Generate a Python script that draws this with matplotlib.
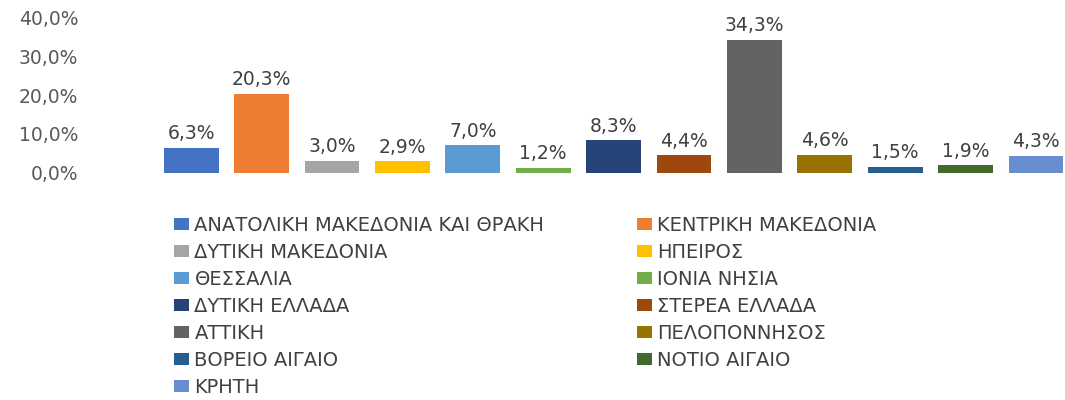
import matplotlib
matplotlib.use("Agg")
import matplotlib.pyplot as plt
from matplotlib.ticker import FuncFormatter

regions = [
    "ΑΝΑΤΟΛΙΚΗ ΜΑΚΕΔΟΝΙΑ ΚΑΙ ΘΡΑΚΗ",
    "ΚΕΝΤΡΙΚΗ ΜΑΚΕΔΟΝΙΑ",
    "ΔΥΤΙΚΗ ΜΑΚΕΔΟΝΙΑ",
    "ΗΠΕΙΡΟΣ",
    "ΘΕΣΣΑΛΙΑ",
    "ΙΟΝΙΑ ΝΗΣΙΑ",
    "ΔΥΤΙΚΗ ΕΛΛΑΔΑ",
    "ΣΤΕΡΕΑ ΕΛΛΑΔΑ",
    "ΑΤΤΙΚΗ",
    "ΠΕΛΟΠΟΝΝΗΣΟΣ",
    "ΒΟΡΕΙΟ ΑΙΓΑΙΟ",
    "ΝΟΤΙΟ ΑΙΓΑΙΟ",
    "ΚΡΗΤΗ",
]
shares = [0.063, 0.203, 0.030, 0.029, 0.070, 0.012, 0.083, 0.044, 0.343, 0.046, 0.015, 0.019, 0.043]
colors = ["#4472C4", "#ED7D31", "#A5A5A5", "#FFC000", "#5B9BD5", "#70AD47",
          "#264478", "#9E480E", "#636363", "#997300", "#255E91", "#43682B", "#698ED0"]
yticks = [0.0, 0.1, 0.2, 0.3, 0.4]

plt.rcParams['font.family'] = ['DejaVu Sans']

W, H = 1065, 400
fig = plt.figure(figsize=(W / 100, H / 100), dpi=100)
ax = fig.add_axes([156 / W, 1 - 172.5 / H, 70.4 * 13 / W, 154.8 / H])

bars = []
for i, (v, c, lab) in enumerate(zip(shares, colors, regions)):
    b = ax.bar(i, v, width=0.78, color=c, label=lab)
    bars.append(b)
    ax.text(i, v + 0.012, f"{v*100:.1f}%".replace(".", ","), ha="center", va="bottom",
            fontsize=13.5, color="#404040")

ax.set_xlim(-0.5, len(shares) - 0.5)
ax.set_ylim(0, 0.4)
ax.set_yticks(yticks)
ax.yaxis.set_major_formatter(FuncFormatter(lambda v, p: f"{v*100:.1f}%".replace(".", ",")))
ax.tick_params(axis="y", length=0, pad=56, labelsize=13.5, labelcolor="#595959")
ax.tick_params(axis="x", length=0, labelbottom=False)
for s in ax.spines.values():
    s.set_visible(False)
ax.patch.set_alpha(0)

col1 = list(range(0, 13, 2))
col2 = list(range(1, 13, 2))
common = dict(frameon=False, fontsize=14, handlelength=0.75, handleheight=0.55,
              handletextpad=0.3, labelspacing=0.41, labelcolor="#404040",
              borderpad=0, borderaxespad=0)
leg1 = fig.legend([bars[i] for i in col1], [regions[i] for i in col1],
                  loc="upper left", bbox_to_anchor=(174 / W, 1 - 216 / H), **common)
leg2 = fig.legend([bars[i] for i in col2], [regions[i] for i in col2],
                  loc="upper left", bbox_to_anchor=(637 / W, 1 - 216 / H), **common)

fig.savefig("out.png", dpi=100)
